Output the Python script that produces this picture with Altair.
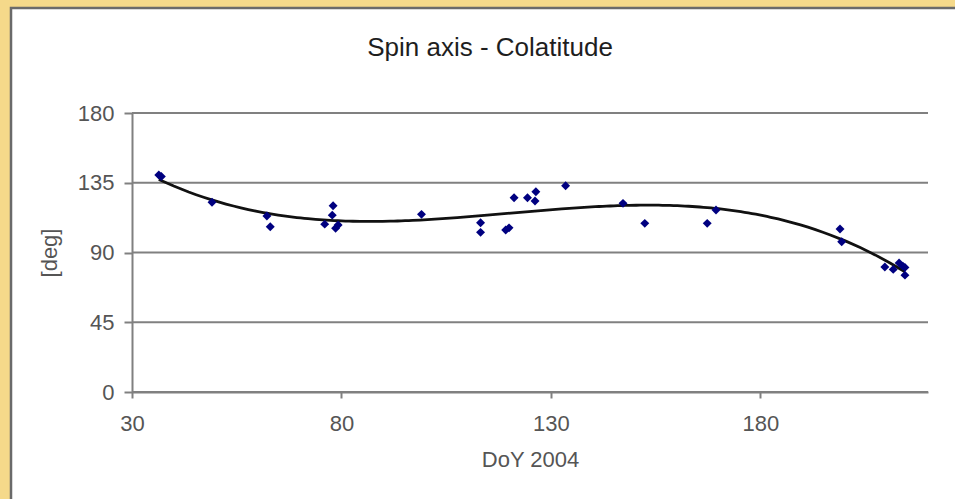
import altair as alt
import pandas as pd

# Day of year (2004) and colatitude of the spin axis [deg]
doy = [36.4, 37.0, 49.1, 62.2, 63.0, 76.0, 77.8, 78.0, 78.6, 79.2, 99.1,
       113.2, 113.2, 119.2, 120.0, 121.2, 124.4, 126.4, 126.2, 133.5,
       147.2, 152.4, 167.3, 169.4, 199.0, 199.4, 209.7, 211.7, 213.1,
       214.0, 214.5, 214.5]
colat = [140.0, 139.0, 122.4, 113.5, 106.6, 108.3, 114.1, 120.2, 105.6, 107.7,
         114.6, 109.2, 103.0, 104.5, 105.9, 125.3, 125.3, 129.2, 123.2, 133.1,
         121.7, 108.8, 108.8, 117.4, 105.1, 96.9, 80.7, 79.1, 83.3, 81.2,
         80.4, 75.4]
x_ticks = [30, 80, 130, 180]
y_ticks = [0, 45, 90, 135, 180]
title_text = ["Spin axis - Colatitude"]

df = pd.DataFrame({"doy": doy, "colat": colat})
grid_df = pd.DataFrame({"g": y_ticks})
title_df = pd.DataFrame({"t": title_text})

W, H = 796, 279
PL, PT = 132, 113
FONT = "Liberation Sans"
GRAY = "#808080"

xscale = alt.Scale(domain=[30, 220], nice=False, zero=False)
yscale = alt.Scale(domain=[0, 180], nice=False)

xaxis = alt.Axis(values=x_ticks, title="DoY 2004", grid=False, zindex=1,
                 tickSize=6, labelPadding=15, titlePadding=15, labelFlush=False)
yaxis = alt.Axis(values=y_ticks, title="[deg]", grid=False, zindex=1,
                 tickSize=8, labelPadding=10, titlePadding=16, labelFlush=False)

frame = alt.Chart(alt.Data(values=[{"a": 1}])).mark_rect(
    fill="white", stroke="#6a6a6a", strokeWidth=2.5
).encode(
    x=alt.value(11 - PL), x2=alt.value(955 - PL + 30),
    y=alt.value(8 - PT), y2=alt.value(499 - PT + 30),
)

title = alt.Chart(title_df).mark_text(
    font=FONT, fontSize=26, color="#1e1e1e", align="center", baseline="alphabetic"
).encode(
    text="t:N", x=alt.value(490 - PL), y=alt.value(56 - PT)
)

grid = alt.Chart(grid_df).mark_rule(color=GRAY, strokeWidth=2).encode(
    y=alt.Y("g:Q", scale=yscale, axis=yaxis)
)

trend = alt.Chart(df).transform_regression(
    "doy", "colat", method="poly", order=3
).mark_line(color="#111111", strokeWidth=2.8).encode(
    x=alt.X("doy:Q", scale=xscale, axis=xaxis),
    y=alt.Y("colat:Q", scale=yscale, axis=yaxis),
)

points = alt.Chart(df).mark_point(
    shape="diamond", filled=True, size=80, color="#000080", opacity=1
).encode(
    x=alt.X("doy:Q", scale=xscale, axis=xaxis),
    y=alt.Y("colat:Q", scale=yscale, axis=yaxis),
)

chart = alt.layer(frame, title, grid, trend, points).properties(
    width=W, height=H,
    background="#f5d98a",
    padding={"left": PL, "top": PT, "right": 955 - PL - W, "bottom": 499 - PT - H},
    autosize=alt.AutoSizeParams(type="none"),
).configure_view(stroke=None).configure_axis(
    labelFont=FONT, titleFont=FONT, labelFontSize=22, titleFontSize=22,
    labelColor="#555555", titleColor="#555555", titleFontWeight="normal",
    domainColor=GRAY, tickColor=GRAY, domainWidth=2, tickWidth=2,
)

chart.save("out.html", embed_options={"renderer": "svg", "actions": False})
